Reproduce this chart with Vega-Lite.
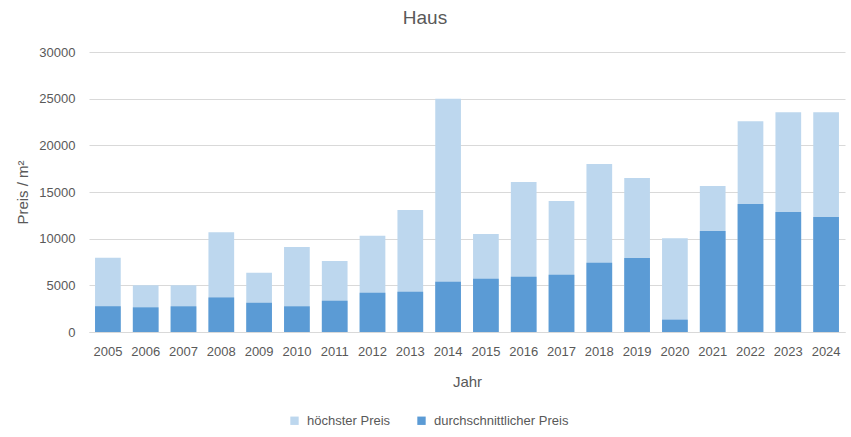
{
  "$schema": "https://vega.github.io/schema/vega-lite/v6.json",
  "width": 756,
  "height": 280,
  "autosize": "none",
  "padding": {"left": 89, "top": 52, "right": 6, "bottom": 105},
  "background": "white",
  "title": {"text": "Haus", "fontSize": 19, "fontWeight": "normal", "color": "#595959", "offset": 18, "dx": -42},
  "config": {
    "font": "Liberation Sans Narrow, Liberation Sans, sans-serif",
    "view": {"stroke": null}
  },
  "data": {"values": [
    {"Jahr": "2005", "Serie": "höchster Preis", "Preis": 7950},
    {"Jahr": "2006", "Serie": "höchster Preis", "Preis": 5000},
    {"Jahr": "2007", "Serie": "höchster Preis", "Preis": 5000},
    {"Jahr": "2008", "Serie": "höchster Preis", "Preis": 10700},
    {"Jahr": "2009", "Serie": "höchster Preis", "Preis": 6340},
    {"Jahr": "2010", "Serie": "höchster Preis", "Preis": 9120},
    {"Jahr": "2011", "Serie": "höchster Preis", "Preis": 7620},
    {"Jahr": "2012", "Serie": "höchster Preis", "Preis": 10300},
    {"Jahr": "2013", "Serie": "höchster Preis", "Preis": 13070},
    {"Jahr": "2014", "Serie": "höchster Preis", "Preis": 25000},
    {"Jahr": "2015", "Serie": "höchster Preis", "Preis": 10500},
    {"Jahr": "2016", "Serie": "höchster Preis", "Preis": 16070},
    {"Jahr": "2017", "Serie": "höchster Preis", "Preis": 14040},
    {"Jahr": "2018", "Serie": "höchster Preis", "Preis": 18000},
    {"Jahr": "2019", "Serie": "höchster Preis", "Preis": 16500},
    {"Jahr": "2020", "Serie": "höchster Preis", "Preis": 10050},
    {"Jahr": "2021", "Serie": "höchster Preis", "Preis": 15640},
    {"Jahr": "2022", "Serie": "höchster Preis", "Preis": 22590},
    {"Jahr": "2023", "Serie": "höchster Preis", "Preis": 23550},
    {"Jahr": "2024", "Serie": "höchster Preis", "Preis": 23550},
    {"Jahr": "2005", "Serie": "durchschnittlicher Preis", "Preis": 2750},
    {"Jahr": "2006", "Serie": "durchschnittlicher Preis", "Preis": 2640},
    {"Jahr": "2007", "Serie": "durchschnittlicher Preis", "Preis": 2750},
    {"Jahr": "2008", "Serie": "durchschnittlicher Preis", "Preis": 3700},
    {"Jahr": "2009", "Serie": "durchschnittlicher Preis", "Preis": 3130},
    {"Jahr": "2010", "Serie": "durchschnittlicher Preis", "Preis": 2750},
    {"Jahr": "2011", "Serie": "durchschnittlicher Preis", "Preis": 3350},
    {"Jahr": "2012", "Serie": "durchschnittlicher Preis", "Preis": 4200},
    {"Jahr": "2013", "Serie": "durchschnittlicher Preis", "Preis": 4310},
    {"Jahr": "2014", "Serie": "durchschnittlicher Preis", "Preis": 5380},
    {"Jahr": "2015", "Serie": "durchschnittlicher Preis", "Preis": 5700},
    {"Jahr": "2016", "Serie": "durchschnittlicher Preis", "Preis": 5910},
    {"Jahr": "2017", "Serie": "durchschnittlicher Preis", "Preis": 6130},
    {"Jahr": "2018", "Serie": "durchschnittlicher Preis", "Preis": 7410},
    {"Jahr": "2019", "Serie": "durchschnittlicher Preis", "Preis": 7940},
    {"Jahr": "2020", "Serie": "durchschnittlicher Preis", "Preis": 1320},
    {"Jahr": "2021", "Serie": "durchschnittlicher Preis", "Preis": 10830},
    {"Jahr": "2022", "Serie": "durchschnittlicher Preis", "Preis": 13720},
    {"Jahr": "2023", "Serie": "durchschnittlicher Preis", "Preis": 12860},
    {"Jahr": "2024", "Serie": "durchschnittlicher Preis", "Preis": 12330}
  ]},
  "mark": {"type": "bar"},
  "encoding": {
    "x": {
      "field": "Jahr", "type": "ordinal",
      "scale": {"paddingInner": 0.32, "paddingOuter": 0.16},
      "axis": {
        "title": "Jahr", "titleFontSize": 15, "titleFontWeight": "normal", "titleColor": "#595959", "titlePadding": 16,
        "labelAngle": 0, "labelFontSize": 13, "labelColor": "#595959", "labelPadding": 13,
        "ticks": false, "domain": true, "domainColor": "#D9D9D9", "grid": false
      }
    },
    "y": {
      "field": "Preis", "type": "quantitative", "stack": null,
      "scale": {"domain": [0, 30000], "nice": false},
      "axis": {
        "title": "Preis / m²", "titleFontSize": 15, "titleFontWeight": "normal", "titleColor": "#595959", "titlePadding": 8,
        "values": [0, 5000, 10000, 15000, 20000, 25000, 30000], "format": "d",
        "labelFontSize": 13, "labelColor": "#595959", "labelPadding": 14,
        "ticks": false, "domain": false, "grid": true, "gridColor": "#D9D9D9"
      }
    },
    "color": {
      "field": "Serie", "type": "nominal",
      "scale": {"domain": ["höchster Preis", "durchschnittlicher Preis"], "range": ["#BDD7EE", "#5B9BD5"]},
      "legend": {
        "title": null, "orient": "none", "direction": "horizontal",
        "legendX": 199, "legendY": 362,
        "symbolType": "square", "symbolSize": 70, "symbolStrokeWidth": 0,
        "labelFontSize": 13, "labelColor": "#595959", "columnPadding": 24, "labelOffset": 6
      }
    },
    "order": {"field": "Serie", "sort": "descending"}
  }
}
